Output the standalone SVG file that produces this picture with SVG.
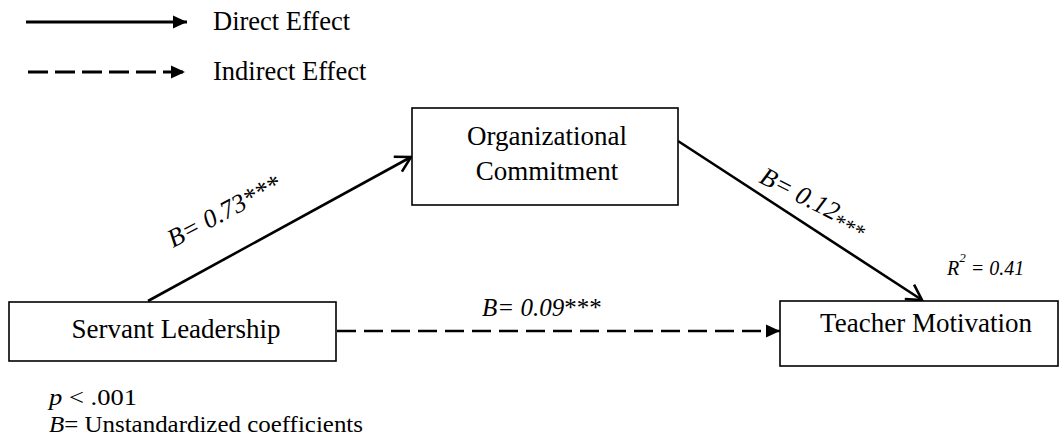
<svg xmlns="http://www.w3.org/2000/svg" width="1059" height="445" viewBox="0 0 1059 445">
<defs>
<style>
text{font-family:"Liberation Serif","Times New Roman",serif;fill:#000}
.node rect{fill:#fff;stroke:#000;stroke-width:1.6}
.node text{font-size:27px;text-anchor:middle}
.conn{stroke:#000;stroke-width:2.6;fill:none}
.dash{stroke-dasharray:19 8}
.lbl{font-size:26px;font-style:italic}
.leg{font-size:26.5px}
.note{font-size:23.5px}
</style>
<marker id="open" markerUnits="userSpaceOnUse" markerWidth="30" markerHeight="30" viewBox="-20 -15 30 30" refX="0" refY="0" orient="auto">
<path d="M-15,-8.5 L0,0 L-15,8.5" fill="none" stroke="#000" stroke-width="2.6"/>
</marker>
<marker id="tri" markerUnits="userSpaceOnUse" markerWidth="30" markerHeight="30" viewBox="-20 -15 30 30" refX="0" refY="0" orient="auto">
<path d="M-14,-6.5 L0,0 L-14,6.5 Z" fill="#000"/>
</marker>
</defs>
<rect width="1059" height="445" fill="#fff"/>
<g id="legend">
<line class="conn" x1="26" y1="22" x2="187" y2="22" marker-end="url(#tri)" style="stroke-width:3"/>
<text x="213" y="30" class="leg">Direct Effect</text>
<line class="conn" x1="28" y1="72" x2="185" y2="72" marker-end="url(#tri)" style="stroke-width:3;stroke-dasharray:20 7"/>
<text x="213" y="80" class="leg">Indirect Effect</text>
</g>
<g id="connectors">
<line class="conn" x1="148" y1="301" x2="411" y2="157" marker-end="url(#open)"/>
<line class="conn" x1="678" y1="141" x2="922" y2="300" marker-end="url(#open)"/>
<line class="conn dash" x1="337" y1="331" x2="780" y2="331" marker-end="url(#tri)"/>
<text class="lbl" transform="translate(173,248) rotate(-28)">B= 0.73***</text>
<text class="lbl" transform="translate(758,182) rotate(27)">B= 0.12<tspan dy="6" style="font-size:22px;font-style:normal">***</tspan></text>
<text class="lbl" x="482" y="316" style="font-size:25px">B= 0.09<tspan style="font-style:normal">***</tspan></text>
<text x="947" y="275" style="font-size:20px;font-style:italic">R<tspan dy="-13" style="font-size:13px">2</tspan><tspan dy="13"> = 0.41</tspan></text>
</g>
<g id="servant" class="node">
<rect x="9" y="302" width="327" height="59"/>
<text x="176" y="338">Servant Leadership</text>
</g>
<g id="commitment" class="node">
<rect x="412" y="108" width="266" height="97"/>
<text x="547" y="145">Organizational</text>
<text x="547" y="180">Commitment</text>
</g>
<g id="teacher" class="node">
<rect x="780" y="301" width="278" height="65"/>
<text x="926" y="332">Teacher Motivation</text>
</g>
<g id="footnote">
<text x="49" y="405" class="note" textLength="88" lengthAdjust="spacingAndGlyphs"><tspan font-style="italic">p</tspan> &lt; .001</text>
<text x="49" y="432" class="note" textLength="314" lengthAdjust="spacingAndGlyphs"><tspan font-style="italic">B</tspan>= Unstandardized coefficients</text>
</g>
</svg>
